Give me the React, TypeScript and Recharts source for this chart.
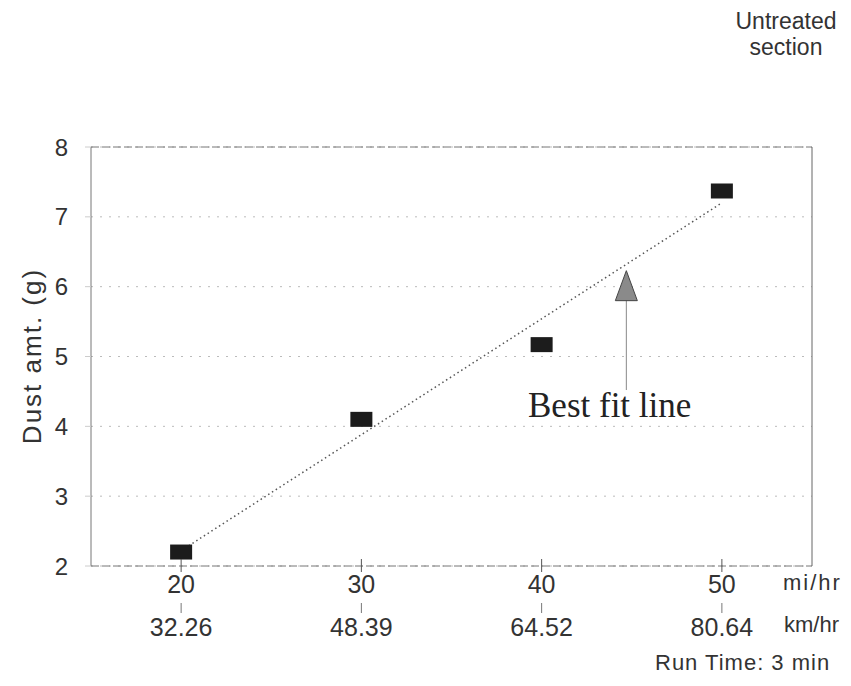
import {
  ComposedChart,
  Scatter,
  XAxis,
  YAxis,
  CartesianGrid,
  ReferenceLine,
} from "recharts";

// speeds (mi/hr) and matching km/hr labels
const SPEED_MPH = [20, 30, 40, 50];
const SPEED_KMH = ["32.26", "48.39", "64.52", "80.64"];

// measured dust amount (g)
const DUST = [2.2, 4.1, 5.17, 7.37];

// best fit line end points
const FIT_X = [20, 50];
const FIT_Y = [2.22, 7.2];

// the arrow head marking the fit line
const MARKER_X = [44.7];
const MARKER_Y = [6.0];

const Y_TICKS = [2, 3, 4, 5, 6, 7, 8];

const SANS = "'Liberation Sans', Arial, sans-serif";
const SERIF = "'Liberation Serif', 'Times New Roman', serif";

const points = SPEED_MPH.map((x, i) => ({ x, y: DUST[i] }));
const fitData = FIT_X.map((x, i) => ({ x, y: FIT_Y[i] }));
const markerData = MARKER_X.map((x, i) => ({ x, y: MARKER_Y[i] }));

const SquareDot = (props: any) => {
  const { cx, cy } = props;
  return <rect x={cx - 11} y={cy - 7.5} width={22} height={15} fill="#1c1c1c" />;
};

const Arrowhead = (props: any) => {
  const { cx, cy } = props;
  return (
    <polygon
      points={`${cx},${cy - 16} ${cx - 11},${cy + 14} ${cx + 11},${cy + 14}`}
      fill="#8a8a8a"
      stroke="#444"
      strokeWidth={1}
    />
  );
};

const NoDot = () => <g />;

// two rows of labels under the axis: mi/hr and km/hr
const SpeedTick = (props: any) => {
  const { x, y, payload, index } = props;
  return (
    <g>
      <line x1={x} x2={x} y1={y - 7} y2={y + 6} stroke="#555" strokeWidth={1} />
      <text x={x} y={y + 27} textAnchor="middle" fontSize={25} fill="#333" fontFamily={SANS}>
        {payload.value}
      </text>
      <line x1={x} x2={x} y1={y + 37} y2={y + 47} stroke="#777" strokeWidth={1} />
      <text x={x} y={y + 70} textAnchor="middle" fontSize={25} fill="#333" fontFamily={SANS}>
        {SPEED_KMH[index]}
      </text>
    </g>
  );
};

export default function App() {
  return (
    <div style={{ position: "absolute", left: 0, top: 0, background: "#fff" }}>
      <ComposedChart
        width={851}
        height={686}
        margin={{ top: 147, right: 39, left: 0, bottom: 0 }}
      >
        <CartesianGrid
          horizontal
          vertical={false}
          stroke="#bbb"
          strokeDasharray="2 7"
        />
        <XAxis
          type="number"
          dataKey="x"
          domain={[15, 55]}
          ticks={SPEED_MPH}
          allowDataOverflow
          height={120}
          tickLine={false}
          tickSize={0}
          tickMargin={0}
          axisLine={{ stroke: "#777", strokeDasharray: "8 3" }}
          tick={<SpeedTick />}
        />
        <YAxis
          type="number"
          dataKey="y"
          domain={[2, 8]}
          ticks={Y_TICKS}
          allowDataOverflow
          width={91}
          tickSize={6}
          tickMargin={17}
          tickLine={{ stroke: "#ccc" }}
          axisLine={{ stroke: "#777" }}
          tick={{ fontSize: 24, fill: "#333", fontFamily: SANS }}
        />
        <ReferenceLine y={8} stroke="#777" strokeDasharray="8 3" />
        <ReferenceLine x={55} stroke="#666" />
        <ReferenceLine
          segment={[
            { x: 44.7, y: 5.83 },
            { x: 44.7, y: 4.52 },
          ]}
          stroke="#888"
        />
        <Scatter
          data={fitData}
          line={{ stroke: "#555", strokeWidth: 1.5, strokeDasharray: "1.5 3" }}
          shape={<NoDot />}
          isAnimationActive={false}
        />
        <Scatter data={points} shape={<SquareDot />} isAnimationActive={false} />
        <Scatter data={markerData} shape={<Arrowhead />} isAnimationActive={false} />

        <text
          x={32}
          y={356}
          transform="rotate(-90, 32, 356)"
          textAnchor="middle"
          dominantBaseline="central"
          fontSize={26}
          letterSpacing={2}
          fill="#333"
          fontFamily={SANS}
        >
          Dust amt. (g)
        </text>
        <text x={528} y={417} fontSize={35} fill="#222" fontFamily={SERIF}>
          Best fit line
        </text>
        <text x={786} y={29} textAnchor="middle" fontSize={23} fill="#333" fontFamily={SANS}>
          Untreated
        </text>
        <text x={786} y={55} textAnchor="middle" fontSize={23} fill="#333" fontFamily={SANS}>
          section
        </text>
        <text x={783} y={590} fontSize={22} letterSpacing={2} fill="#333" fontFamily={SANS}>
          mi/hr
        </text>
        <text x={784} y={632} fontSize={22} fill="#333" fontFamily={SANS}>
          km/hr
        </text>
        <text x={655} y={670} fontSize={22} letterSpacing={1} fill="#333" fontFamily={SANS}>
          Run Time: 3 min
        </text>
      </ComposedChart>
    </div>
  );
}
